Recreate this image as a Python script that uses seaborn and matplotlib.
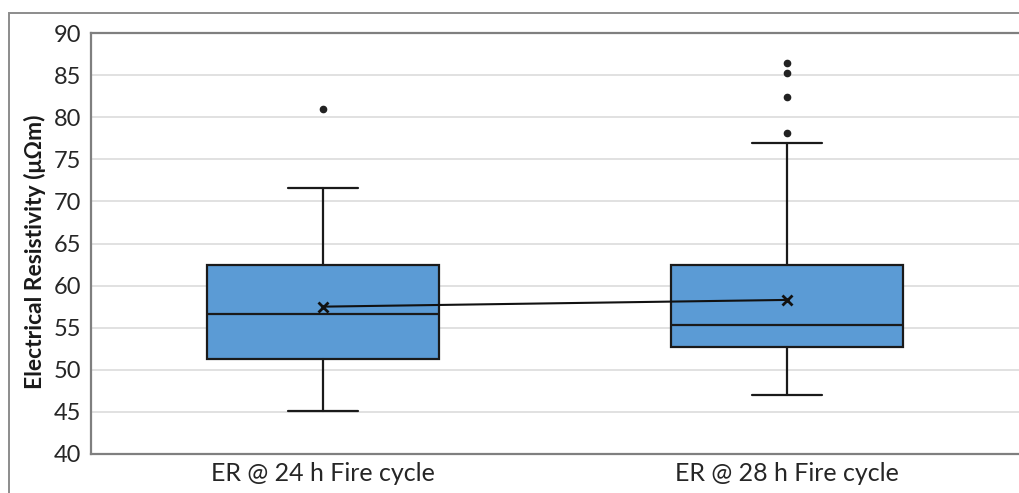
import matplotlib
matplotlib.use("Agg")
import matplotlib.pyplot as plt
import seaborn as sns
import pandas as pd
from matplotlib.patches import Rectangle

categories = ["ER @ 24 h Fire cycle", "ER @ 28 h Fire cycle"]
whisker_low = [45.1, 47.0]
q1 = [51.3, 52.7]
median = [56.6, 55.3]
q3 = [62.4, 62.4]
whisker_high = [71.6, 76.9]
means = [57.5, 58.3]
outliers = [[81.0], [78.1, 82.4, 85.3, 86.4]]
y_ticks = [40, 45, 50, 55, 60, 65, 70, 75, 80, 85, 90]

sns.set_theme(style="white")
plt.rcParams["font.family"] = ["Lato", "DejaVu Sans"]

fig = plt.figure(figsize=(10.19, 4.93), dpi=100)
ax = fig.add_axes([91 / 1019, 1 - 454 / 493, 1 - 91 / 1019, (454 - 33) / 493])

# outer chart frame
fig.patches.append(Rectangle((9 / 1019, -0.05), 1.2, 1 - 13 / 493 + 0.05,
                             transform=fig.transFigure, fill=False,
                             edgecolor="#8c8c8c", linewidth=1.4, zorder=0))

stats = []
for i, c in enumerate(categories):
    stats.append(dict(label=c, whislo=whisker_low[i], q1=q1[i], med=median[i],
                      q3=q3[i], whishi=whisker_high[i], fliers=outliers[i]))

box_color = "#5b9bd5"
edge = "#1a1a1a"
lw = 1.6
ax.bxp(stats, positions=range(len(categories)), widths=0.5, capwidths=0.15,
       patch_artist=True, showfliers=True, manage_ticks=False,
       boxprops=dict(facecolor=box_color, edgecolor=edge, linewidth=lw),
       medianprops=dict(color=edge, linewidth=lw),
       whiskerprops=dict(color=edge, linewidth=lw),
       capprops=dict(color=edge, linewidth=lw),
       flierprops=dict(marker="o", markersize=4.5, markerfacecolor="#222222",
                       markeredgecolor="#222222"),
       zorder=3)

df_mean = pd.DataFrame({"pos": list(range(len(categories))), "mean": means})
sns.lineplot(data=df_mean, x="pos", y="mean", ax=ax, color="#111111",
             linewidth=1.5, marker="x", markersize=7, markeredgewidth=2.0,
             markeredgecolor="#111111", zorder=5)

ax.set_xlim(-0.5, len(categories) - 0.5)
ax.set_ylim(40, 90)
ax.set_yticks(y_ticks)
ax.set_xticks(range(len(categories)))
ax.set_xticklabels(categories)
ax.yaxis.grid(True, color="#dcdcdc", linewidth=1.2)
ax.set_axisbelow(True)
ax.tick_params(axis="y", labelsize=17, colors="#262626", length=0, pad=7)
ax.tick_params(axis="x", labelsize=18, colors="#262626", length=0, pad=6)
ax.set_xlabel("")
ax.set_ylabel("Electrical Resistivity (μΩm)", fontsize=16.5, fontweight="bold",
              color="#1a1a1a", labelpad=7)
ax.yaxis.set_label_coords(-0.049, 0.48)

for s in ["left", "bottom", "top"]:
    ax.spines[s].set_visible(True)
    ax.spines[s].set_color("#7f7f7f")
    ax.spines[s].set_linewidth(1.6)
ax.spines["right"].set_visible(False)

fig.savefig("out.png", dpi=100)
